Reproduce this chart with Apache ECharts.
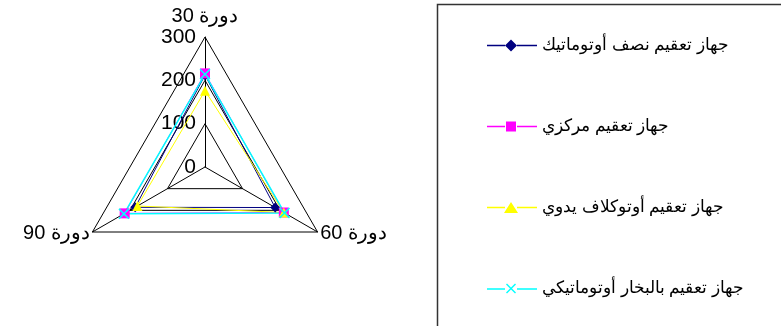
<!DOCTYPE html>
<html>
<head>
<meta charset="utf-8">
<script src="https://cdn.jsdelivr.net/npm/echarts@6/dist/echarts.min.js"></script>
<style>
  html, body { margin: 0; padding: 0; background: #fff; }
  #chart { width: 781px; height: 326px; }
</style>
</head>
<body>
<div id="chart"></div>
<script>
// 축(지표) 이름 - 그리는 순서 (위, 왼쪽 아래, 오른쪽 아래)
let cycles = ['دورة 30', 'دورة 90', 'دورة 60'];
let axisMax = 300;

// 시리즈 이름과 값 (cycles 순서: 30, 90, 60)
let deviceNames = [
  'جهاز تعقيم نصف أوتوماتيك',
  'جهاز تعقيم مركزي',
  'جهاز تعقيم أوتوكلاف يدوي',
  'جهاز تعقيم بالبخار أوتوماتيكي'
];
let semiAutoValues = [212, 186, 187];
let centralValues = [216, 214, 210];
let autoclaveValues = [176, 180, 210];
let steamAutoValues = [214, 216, 212];

let colors = ['#000080', '#ff00ff', '#ffff00', '#00ffff'];

// 마커 모양
let xMark = 'path://M0,1L1,0L5,4L9,0L10,1L6,5L10,9L9,10L5,6L1,10L0,9L4,5Z';
let symbols = ['diamond', 'rect', 'triangle', xMark];

// 범례 아이콘: 선 + 마커
let lineL = 'M0,5.2L18,5.2L18,6.8L0,6.8Z';
let lineR = 'M30,5.2L50,5.2L50,6.8L30,6.8Z';
let legendIcons = [
  'path://' + lineL + ' M18,6L24,0L30,6L24,12Z ' + lineR,
  'path://' + lineL + ' M19,1L29,1L29,11L19,11Z ' + lineR,
  'path://' + lineL + ' M24,0.5L31,11.5L17,11.5Z ' + lineR,
  'path://' + lineL + ' M19,1.5L20,0.5L24,4.5L28,0.5L29,1.5L25,5.5L29,9.5L28,10.5L24,6.5L20,10.5L19,9.5L23,5.5Z ' + lineR
];

let allValues = [semiAutoValues, centralValues, autoclaveValues, steamAutoValues];

window.onload = function () {
  var myChart = echarts.init(document.getElementById('chart'));

  var indicators = cycles.map(function (c, i) {
    var ind = { name: c, max: axisMax, min: 0 };
    if (i === 0) ind.axisLabel = { show: true };
    return ind;
  });

  var seriesData = deviceNames.map(function (n, i) {
    return {
      name: n,
      value: allValues[i],
      symbol: symbols[i],
      symbolSize: i === 3 ? 11 : 10,
      itemStyle: { color: colors[i] },
      lineStyle: { color: colors[i], width: i === 3 ? 1.5 : 1 }
    };
  });

  var option = {
    animation: false,
    textStyle: { fontFamily: 'Liberation Sans, Arial, sans-serif' },
    radar: {
      center: [205, 167],
      radius: 130,
      shape: 'polygon',
      startAngle: 90,
      splitNumber: 3,
      indicator: indicators,
      nameGap: 3,
      axisName: { color: '#000', fontSize: 20, fontFamily: 'Liberation Sans, Arial, sans-serif' },
      axisLine: { lineStyle: { color: '#000', width: 1 } },
      splitLine: { lineStyle: { color: '#000', width: 1 } },
      splitArea: { show: false },
      axisTick: { show: false },
      axisLabel: { show: false, color: '#000', fontSize: 21, margin: 9, fontFamily: 'Liberation Sans, Arial, sans-serif' }
    },
    legend: {
      orient: 'vertical',
      left: 482,
      top: 32,
      itemWidth: 50,
      itemHeight: 12,
      itemGap: 64,
      textStyle: { color: '#000', fontSize: 17 },
      data: deviceNames.map(function (n, i) { return { name: n, icon: legendIcons[i] }; })
    },
    graphic: [{
      type: 'rect',
      shape: { x: 437.5, y: 4.5, width: 400, height: 400 },
      style: { fill: 'none', stroke: '#333', lineWidth: 1.5 },
      silent: true
    }],
    series: [{
      type: 'radar',
      data: seriesData
    }]
  };
  myChart.setOption(option);
};
</script>
</body>
</html>
